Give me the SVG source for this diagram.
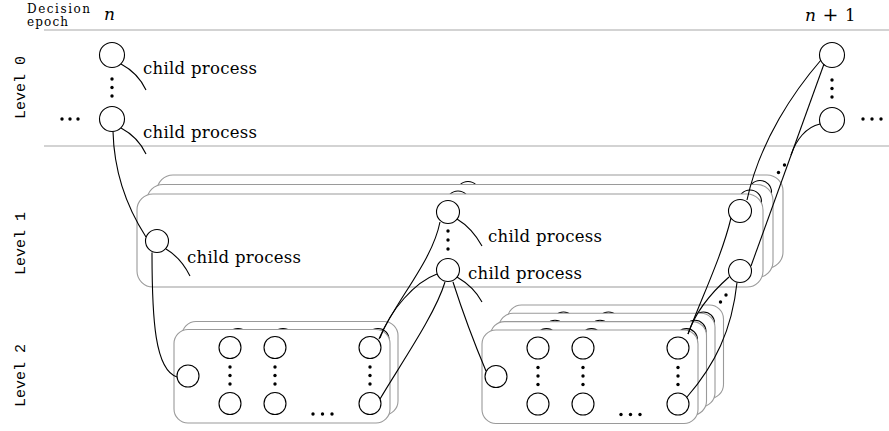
<svg xmlns="http://www.w3.org/2000/svg" xmlns:xlink="http://www.w3.org/1999/xlink" width="889" height="431" viewBox="0 0 889 431">
<style>
.c { fill:#fff; stroke:#000; stroke-width:1.1 }
.panel { fill:#fff; stroke:#9a9a9a; stroke-width:1.1 }
.conn { fill:none; stroke:#000; stroke-width:1.1 }
.dot { fill:#000 }
.rule { stroke:#a8a8a8; stroke-width:1.2 }
.lbl { font-family:"DejaVu Serif","Liberation Serif",serif; font-size:16.5px; fill:#000 }
.small { font-family:"DejaVu Serif","Liberation Serif",serif; font-size:12px; fill:#000 }
.math { font-family:"DejaVu Serif","Liberation Serif",serif; font-size:17px; font-style:italic; fill:#000 }
.lvl { font-family:"Liberation Mono","DejaVu Sans Mono",monospace; font-size:15px; fill:#000 }
</style>
<defs>
  <g id="panel1">
    <rect class="panel" x="0" y="0" width="626" height="93" rx="16"/>
    <circle class="c" cx="20" cy="47" r="11.5"/>
    <circle class="c" cx="311" cy="18" r="11.5"/>
    <circle class="c" cx="311" cy="76" r="11.5"/>
    <circle class="c" cx="603" cy="17" r="11.5"/>
    <circle class="c" cx="603" cy="77" r="11.5"/>
    <circle class="dot" cx="311" cy="37" r="1.7"/>
    <circle class="dot" cx="311" cy="46" r="1.7"/>
    <circle class="dot" cx="311" cy="55" r="1.7"/>
  </g>
  <g id="panel2">
    <rect class="panel" x="0" y="0" width="216" height="93.5" rx="14"/>
    <circle class="c" cx="14" cy="46.5" r="11"/>
    <circle class="c" cx="56" cy="18" r="11"/>
    <circle class="c" cx="101" cy="18" r="11"/>
    <circle class="c" cx="196" cy="18" r="11"/>
    <circle class="c" cx="56" cy="74" r="11"/>
    <circle class="c" cx="101" cy="74" r="11"/>
    <circle class="c" cx="196" cy="74" r="11"/>
    <g class="dot">
      <circle cx="56" cy="37.5" r="1.7"/><circle cx="56" cy="46" r="1.7"/><circle cx="56" cy="54.5" r="1.7"/>
      <circle cx="101" cy="37.5" r="1.7"/><circle cx="101" cy="46" r="1.7"/><circle cx="101" cy="54.5" r="1.7"/>
      <circle cx="196" cy="37.5" r="1.7"/><circle cx="196" cy="46" r="1.7"/><circle cx="196" cy="54.5" r="1.7"/>
      <circle cx="139" cy="84.5" r="1.7"/><circle cx="148.5" cy="84.5" r="1.7"/><circle cx="158" cy="84.5" r="1.7"/>
    </g>
  </g>
</defs>

<g id="axes">
  <line class="rule" x1="44" y1="30" x2="889" y2="30"/>
  <line class="rule" x1="44" y1="146" x2="889" y2="146"/>
  <text class="small" x="27" y="12.5" textLength="63" lengthAdjust="spacing">Decision</text>
  <text class="small" x="27" y="25.5" textLength="41" lengthAdjust="spacing">epoch</text>
  <text class="math" x="104" y="19.5">n</text>
  <text class="math" x="805" y="20.5">n</text>
  <text class="lbl" x="830.5" y="20.5" text-anchor="middle" style="font-size:19px">+</text>
  <text class="lbl" x="845" y="20.5">1</text>
  <text class="lvl" transform="translate(25,87.5) rotate(-90)" text-anchor="middle">Level 0</text>
  <text class="lvl" transform="translate(25,243.5) rotate(-90)" text-anchor="middle">Level 1</text>
  <text class="lvl" transform="translate(25,375.5) rotate(-90)" text-anchor="middle">Level 2</text>
</g>

<g id="level0-left">
  <circle class="c" cx="112" cy="55" r="12.5"/>
  <circle class="c" cx="112" cy="119" r="12.5"/>
  <g class="dot">
    <circle cx="112" cy="79" r="1.7"/><circle cx="112" cy="87.5" r="1.7"/><circle cx="112" cy="96" r="1.7"/>
    <circle cx="62" cy="119" r="1.7"/><circle cx="70" cy="119" r="1.7"/><circle cx="78" cy="119" r="1.7"/>
  </g>
  <path class="conn" d="M121,64 Q138,73 146,90"/>
  <path class="conn" d="M121,128 Q138,137 146,154"/>
  <text class="lbl" x="143" y="74" textLength="114" lengthAdjust="spacing">child process</text>
  <text class="lbl" x="143" y="138" textLength="114" lengthAdjust="spacing">child process</text>
</g>

<g id="level0-right">
  <circle class="c" cx="832" cy="55" r="12.5"/>
  <circle class="c" cx="832" cy="120" r="12.5"/>
  <g class="dot">
    <circle cx="832" cy="80" r="1.7"/><circle cx="832" cy="88.5" r="1.7"/><circle cx="832" cy="97" r="1.7"/>
    <circle cx="863" cy="119" r="1.7"/><circle cx="872" cy="119" r="1.7"/><circle cx="881" cy="119" r="1.7"/>
  </g>
</g>

<g id="level1-stack">
  <use xlink:href="#panel1" href="#panel1" transform="translate(157,175)"/>
  <use xlink:href="#panel1" href="#panel1" transform="translate(147,184.5)"/>
  <use xlink:href="#panel1" href="#panel1" transform="translate(137,194)"/>
  <path class="conn" d="M166,249 Q181,258 190,276"/>
  <text class="lbl" x="187" y="263" textLength="114" lengthAdjust="spacing">child process</text>
  <path class="conn" d="M457,219 Q472,228 482,246"/>
  <text class="lbl" x="488" y="242" textLength="114" lengthAdjust="spacing">child process</text>
  <path class="conn" d="M457,277 Q474,287 482,302"/>
  <text class="lbl" x="468" y="279" textLength="114" lengthAdjust="spacing">child process</text>
</g>

<g id="level2-left">
  <use xlink:href="#panel2" href="#panel2" transform="translate(182,321.5)"/>
  <use xlink:href="#panel2" href="#panel2" transform="translate(174,329.5)"/>
</g>

<g id="level2-right">
  <use xlink:href="#panel2" href="#panel2" transform="translate(507.5,305)"/>
  <use xlink:href="#panel2" href="#panel2" transform="translate(499,313.3)"/>
  <use xlink:href="#panel2" href="#panel2" transform="translate(490.5,321.6)"/>
  <use xlink:href="#panel2" href="#panel2" transform="translate(482,330)"/>
</g>

<g id="connectors">
  <path class="conn" d="M113,131.5 C114,170 126,206 146,237"/>
  <path class="conn" d="M152,252.5 C152,320 155,370 177,377"/>
  <path class="conn" d="M440,222 C432,262 396,300 379,339"/>
  <path class="conn" d="M437,274 C415,282 390,310 380,338"/>
  <path class="conn" d="M445,282 C435,315 400,365 380,399"/>
  <path class="conn" d="M453,282 C462,310 475,345 486,371"/>
  <path class="conn" d="M731,218 C722,255 705,290 688,334"/>
  <path class="conn" d="M729,277 C712,292 696,310 688,334"/>
  <path class="conn" d="M737,282.5 C732,330 715,365 687,397"/>
  <path class="conn" d="M821,60 C795,90 760,140 747,200"/>
  <path class="conn" d="M824,64 L751,266"/>
  <path class="conn" d="M820,124 C806,127 796,140 791,155"/>
  <g class="dot">
    <circle cx="778.5" cy="172.5" r="1.7"/><circle cx="784.5" cy="165" r="1.7"/>
    <circle cx="720.5" cy="302" r="1.7"/><circle cx="726" cy="295" r="1.7"/>
  </g>
</g>
</svg>
